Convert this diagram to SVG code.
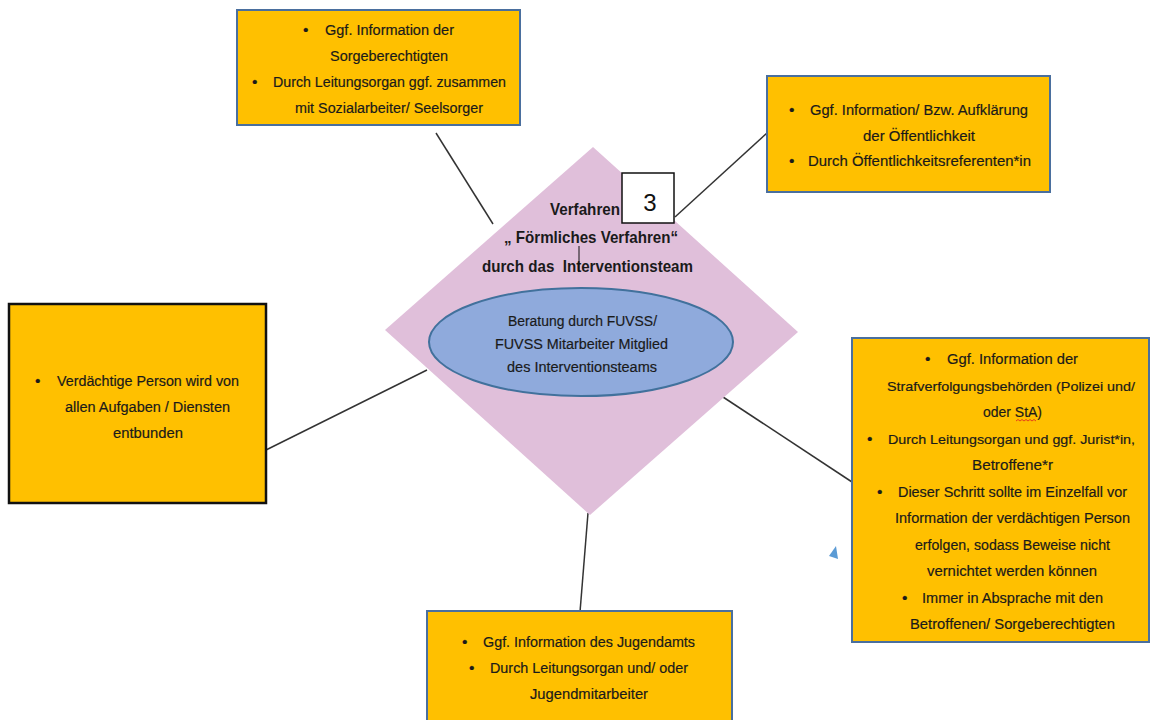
<svg xmlns="http://www.w3.org/2000/svg" width="1150" height="720" viewBox="0 0 1150 720">
<style>
.box{fill:#FFC000;stroke:#4A6F9E;stroke-width:2}
.boxk{fill:#FFC000;stroke:#111;stroke-width:2.5}
.t{font-family:"Liberation Sans",Arial,sans-serif;font-size:15.5px;fill:#1a1a1a;stroke:#1a1a1a;stroke-width:0.2}
.s{font-size:13.5px}
.b{font-family:"Liberation Sans",Arial,sans-serif;font-size:17px;font-weight:bold;fill:#1a1a1a;white-space:pre}
.conn{stroke:#333;stroke-width:1.5;fill:none}
</style>
<rect width="1150" height="720" fill="#fff"/>
<g id="connectors">
<line class="conn" x1="436" y1="133" x2="493" y2="224"/>
<line class="conn" x1="675" y1="217" x2="767" y2="133"/>
<line class="conn" x1="266" y1="450" x2="427" y2="370"/>
<line class="conn" x1="723" y1="397" x2="852" y2="482"/>
<line class="conn" x1="588" y1="513" x2="580" y2="612"/>
</g>
<g id="center">
<polygon points="593,147 798,332 590,515 385,330" fill="#E0BFDA"/>
<text class="b" x="550" y="215" textLength="70" lengthAdjust="spacingAndGlyphs">Verfahren</text>
<text class="b" x="504" y="243" textLength="174" lengthAdjust="spacingAndGlyphs">„ Förmliches Verfahren“</text>
<text class="b" x="482" y="272" textLength="211" lengthAdjust="spacingAndGlyphs" xml:space="preserve">durch das  Interventionsteam</text>
<line x1="579" y1="246" x2="579" y2="272" stroke="#111" stroke-width="1"/>
<g id="ellipse">
<ellipse cx="581" cy="342" rx="152" ry="54" fill="#8FAADC" stroke="#41719C" stroke-width="2"/>
<text class="t" x="508" y="326" textLength="149" lengthAdjust="spacingAndGlyphs">Beratung durch FUVSS/</text>
<text class="t" x="495" y="349" textLength="173" lengthAdjust="spacingAndGlyphs">FUVSS Mitarbeiter Mitglied</text>
<text class="t" x="507" y="372" textLength="150" lengthAdjust="spacingAndGlyphs">des Interventionsteams</text>
</g>
</g>
<g id="label3">
<rect x="622" y="173" width="52" height="50" fill="#fff" stroke="#111" stroke-width="1.5"/>
<text x="650" y="211" text-anchor="middle" font-family="Liberation Sans,Arial,sans-serif" font-size="24" fill="#111">3</text>
</g>
<g id="box-top">
<rect class="box" x="237" y="10" width="283" height="115"/>
<text class="t" x="303" y="35">•</text>
<text class="t" x="325" y="35" textLength="129" lengthAdjust="spacingAndGlyphs">Ggf. Information der</text>
<text class="t" x="330" y="61" textLength="118" lengthAdjust="spacingAndGlyphs">Sorgeberechtigten</text>
<text class="t" x="252" y="87">•</text>
<text class="t" x="273" y="87" textLength="233" lengthAdjust="spacingAndGlyphs">Durch Leitungsorgan ggf. zusammen</text>
<text class="t" x="295" y="113" textLength="188" lengthAdjust="spacingAndGlyphs">mit Sozialarbeiter/ Seelsorger</text>
</g>
<g id="box-topright">
<rect class="box" x="767" y="76" width="283" height="116"/>
<text class="t" x="789" y="115">•</text>
<text class="t" x="810" y="115" textLength="218" lengthAdjust="spacingAndGlyphs">Ggf. Information/ Bzw. Aufklärung</text>
<text class="t" x="863" y="141" textLength="112" lengthAdjust="spacingAndGlyphs">der Öffentlichkeit</text>
<text class="t" x="789" y="166">•</text>
<text class="t" x="808" y="166" textLength="223" lengthAdjust="spacingAndGlyphs">Durch Öffentlichkeitsreferenten*in</text>
</g>
<g id="box-left">
<rect class="boxk" x="9" y="304" width="257" height="199"/>
<text class="t" x="35" y="386">•</text>
<text class="t" x="57" y="386" textLength="182" lengthAdjust="spacingAndGlyphs">Verdächtige Person wird von</text>
<text class="t" x="65" y="412" textLength="165" lengthAdjust="spacingAndGlyphs">allen Aufgaben / Diensten</text>
<text class="t" x="113" y="438" textLength="70" lengthAdjust="spacingAndGlyphs">entbunden</text>
</g>
<g id="box-right">
<rect class="box" x="852" y="338" width="297" height="304"/>
<text class="t" x="925" y="364">•</text>
<text class="t" x="947" y="364" textLength="131" lengthAdjust="spacingAndGlyphs">Ggf. Information der</text>
<text class="t s" x="887" y="391" textLength="248" lengthAdjust="spacingAndGlyphs">Strafverfolgungsbehörden (Polizei und/</text>
<text class="t" x="983" y="417" textLength="59" lengthAdjust="spacingAndGlyphs">oder StA)</text>
<path d="M1016,421 l2,-1.5 l2,1.5 l2,-1.5 l2,1.5 l2,-1.5 l2,1.5 l2,-1.5 l2,1.5 l2,-1.5 l2,1.5" fill="none" stroke="#e02020" stroke-width="0.8"/>
<text class="t" x="867" y="444">•</text>
<text class="t s" x="888" y="444" textLength="247" lengthAdjust="spacingAndGlyphs">Durch Leitungsorgan und ggf. Jurist*in,</text>
<text class="t" x="972" y="470" textLength="81" lengthAdjust="spacingAndGlyphs">Betroffene*r</text>
<text class="t" x="877" y="497">•</text>
<text class="t" x="898" y="497" textLength="229" lengthAdjust="spacingAndGlyphs">Dieser Schritt sollte im Einzelfall vor</text>
<text class="t" x="895" y="523" textLength="235" lengthAdjust="spacingAndGlyphs">Information der verdächtigen Person</text>
<text class="t" x="915" y="550" textLength="195" lengthAdjust="spacingAndGlyphs">erfolgen, sodass Beweise nicht</text>
<text class="t" x="927" y="576" textLength="170" lengthAdjust="spacingAndGlyphs">vernichtet werden können</text>
<text class="t" x="902" y="603">•</text>
<text class="t" x="922" y="603" textLength="181" lengthAdjust="spacingAndGlyphs">Immer in Absprache mit den</text>
<text class="t" x="910" y="629" textLength="205" lengthAdjust="spacingAndGlyphs">Betroffenen/ Sorgeberechtigten</text>
</g>
<g id="box-bottom">
<rect class="box" x="427" y="611" width="305" height="120"/>
<text class="t" x="462" y="647">•</text>
<text class="t" x="483" y="647" textLength="212" lengthAdjust="spacingAndGlyphs">Ggf. Information des Jugendamts</text>
<text class="t" x="469" y="673">•</text>
<text class="t" x="490" y="673" textLength="198" lengthAdjust="spacingAndGlyphs">Durch Leitungsorgan und/ oder</text>
<text class="t" x="530" y="699" textLength="118" lengthAdjust="spacingAndGlyphs">Jugendmitarbeiter</text>
</g>
<polygon id="marker-triangle" points="836,546 829,556 838,559" fill="#5B9BD5"/>
</svg>
